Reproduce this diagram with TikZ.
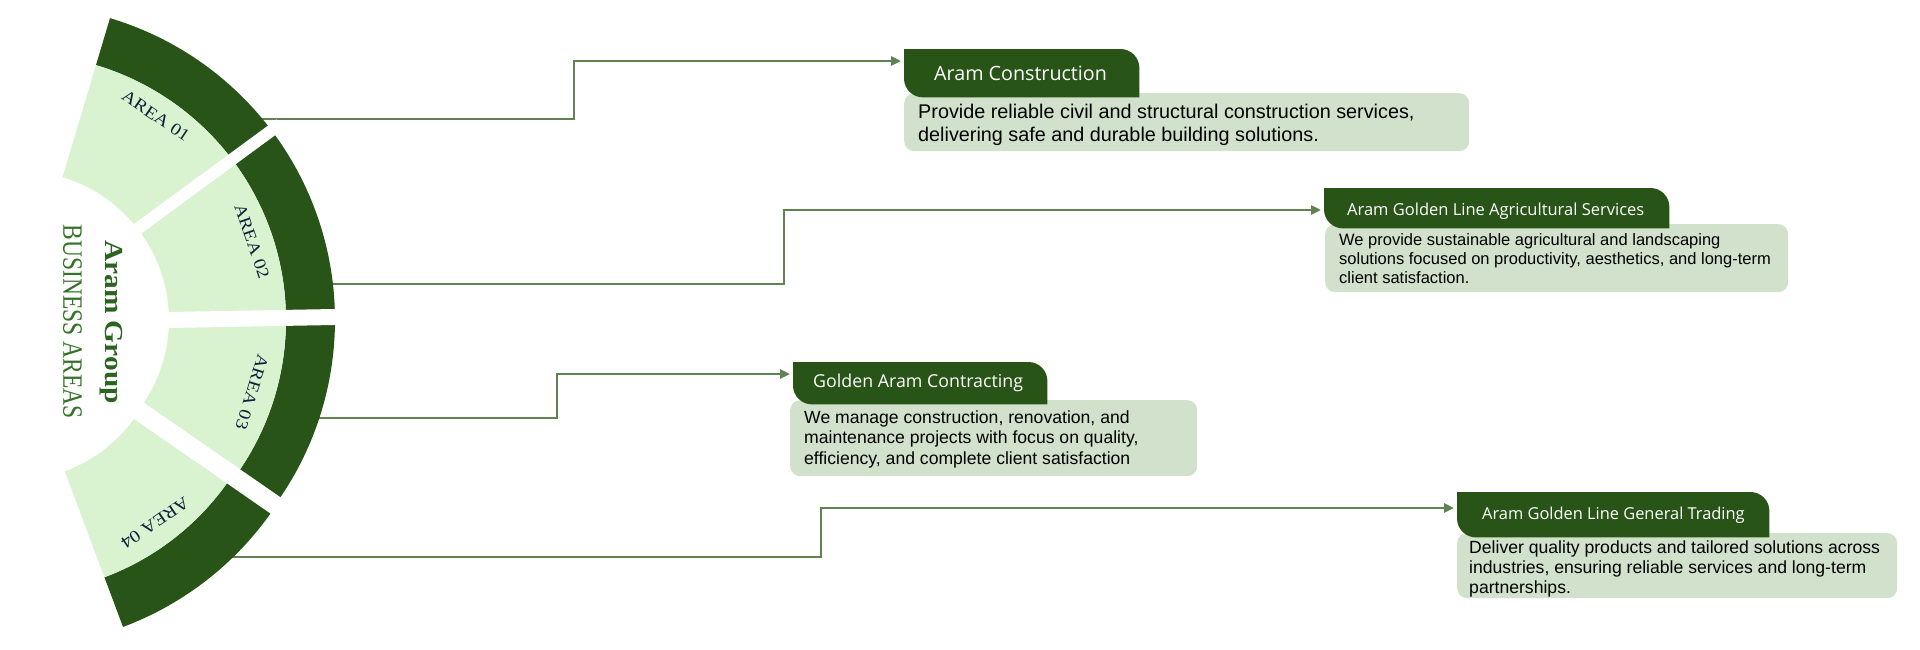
\documentclass[tikz,border=0pt]{standalone}
\usepackage{fontspec}
\setmainfont{Liberation Serif}
\newfontfamily\bodyfont{Liberation Sans}
\newfontfamily\hdrfont{Open Sans}
\newfontfamily\areafont[FakeStretch=1.15]{Liberation Serif}
\newfontfamily\titlefont[FakeStretch=1.13]{Liberation Serif}
\newfontfamily\subfont[FakeStretch=0.84]{Liberation Serif}
\usetikzlibrary{arrows.meta,calc}
\definecolor{darkg}{RGB}{40,84,24}
\definecolor{fanlight}{RGB}{217,242,208}
\definecolor{boxlight}{RGB}{209,225,203}
\definecolor{connc}{RGB}{97,130,82}
\definecolor{areatxt}{RGB}{12,34,58}
\definecolor{titleg}{RGB}{42,100,32}
\definecolor{subg}{RGB}{52,114,40}
\newcommand\hdrshape[1]{\fill[darkg] (#1.north west) -- ([xshift=-19pt]#1.north east) arc[start angle=90,end angle=0,radius=19pt] -- (#1.south east) -- ([xshift=19pt]#1.south west) arc[start angle=270,end angle=180,radius=19pt] -- cycle;}
\begin{document}
\begin{tikzpicture}[x=1pt,y=-1pt,
  conn/.style={draw=connc, line width=2.8pt, -{Triangle[length=10pt,width=9pt]}},
  bodybox/.style={fill=boxlight, rounded corners=10pt, inner sep=0pt, anchor=north west},
  hdrbox/.style={inner sep=0pt, anchor=north west},
  hdrtext/.style={text=white, anchor=base west, inner sep=0pt},
  bodytext/.style={text=black, anchor=base west, inner sep=0pt, align=left},
  arealabel/.style={text=areatxt, inner sep=0pt, font=\areafont\fontsize{17}{17}\selectfont},
  gap/.style={draw=white},
]
\useasboundingbox (0,0) rectangle (1920,649);
\fill[white] (0,0) rectangle (1920,649);

% ---------- boxes ----------
\node[bodybox, minimum width=565pt, minimum height=58pt] (b1) at (904,93) {};
\node[hdrbox, minimum width=235pt, minimum height=48pt] (h1) at (904,49) {};
\hdrshape{h1}
\node[bodybox, minimum width=463pt, minimum height=68pt] (b2) at (1325,224) {};
\node[hdrbox, minimum width=345pt, minimum height=40pt] (h2) at (1324,188) {};
\hdrshape{h2}
\node[bodybox, minimum width=407pt, minimum height=76pt] (b3) at (790,400) {};
\node[hdrbox, minimum width=254pt, minimum height=42pt] (h3) at (793,362) {};
\hdrshape{h3}
\node[bodybox, minimum width=440pt, minimum height=65pt] (b4) at (1457,533) {};
\node[hdrbox, minimum width=312pt, minimum height=45pt] (h4) at (1457,492) {};
\hdrshape{h4}

\node[hdrtext, font=\hdrfont\fontsize{19.7}{20}\selectfont] (ht1) at (934,80) {Aram Construction};
\node[hdrtext, font=\hdrfont\fontsize{16.5}{17}\selectfont] (ht2) at (1347,215) {Aram Golden Line Agricultural Services};
\node[hdrtext, font=\hdrfont\fontsize{17.8}{18}\selectfont] (ht3) at (813,387) {Golden Aram Contracting};
\node[hdrtext, font=\hdrfont\fontsize{16.4}{17}\selectfont] (ht4) at (1482,519) {Aram Golden Line General Trading};

% anchor = baseline of the last line
\node[bodytext, font=\bodyfont\fontsize{19.8}{23}\selectfont] (bt1) at (918,141) {Provide reliable civil and structural construction services,\\delivering safe and durable building solutions.};
\node[bodytext, font=\bodyfont\fontsize{16.5}{19}\selectfont] (bt2) at (1339,283) {We provide sustainable agricultural and landscaping\\solutions focused on productivity, aesthetics, and long-term\\client satisfaction.};
\node[bodytext, font=\bodyfont\fontsize{17.6}{20.5}\selectfont] (bt3) at (804,464) {We manage construction, renovation, and\\maintenance projects with focus on quality,\\efficiency, and complete client satisfaction};
\node[bodytext, font=\bodyfont\fontsize{17.6}{20}\selectfont] (bt4) at (1469,593) {Deliver quality products and tailored solutions across\\industries, ensuring reliable services and long-term\\partnerships.};

% ---------- connectors ----------
\coordinate (C) at (20,320);
\coordinate (C4) at (12,330);
\coordinate (s1) at (258,119);
\coordinate (s2) at (330,284);
\coordinate (s3) at (316,418);
\coordinate (s4) at (228,557);
\draw[conn] (s1) -- ++(316,0) |- ([shift={(-3pt,-12pt)}]h1.north west);
\draw[conn] (s2) -- ++(454,0) |- ([shift={(-3pt,-22pt)}]h2.north west);
\draw[conn] (s3) -- ++(241,0) |- ([shift={(-3pt,-12pt)}]h3.north west);
\draw[conn] (s4) -- ++(593,0) |- ([shift={(-3pt,-16pt)}]h4.north west);

% ---------- fan ----------
\fill[darkg] ($(C)+(73.4:315pt)$) arc[start angle=73.4,end angle=-36.5,radius=315pt] -- ($(C)+(-36.5:266pt)$) arc[start angle=-36.5,end angle=73.4,radius=266pt] -- cycle;
\fill[fanlight] ($(C)+(73.4:266pt)$) arc[start angle=73.4,end angle=-36.5,radius=266pt] -- ($(C)+(-36.5:149pt)$) arc[start angle=-36.5,end angle=73.4,radius=149pt] -- cycle;
\fill[darkg] ($(C4)+(-33:317pt)$) arc[start angle=-33,end angle=-69.5,radius=317pt] -- ($(C4)+(-69.5:264pt)$) arc[start angle=-69.5,end angle=-33,radius=264pt] -- cycle;
\fill[fanlight] ($(C4)+(-33:264pt)$) arc[start angle=-33,end angle=-69.5,radius=264pt] -- ($(C4)+(-69.5:151pt)$) arc[start angle=-69.5,end angle=-33,radius=151pt] -- cycle;
\draw[gap, line width=12pt] (130,234.4) -- (280,124.2);
\draw[gap, line width=16pt] (157,320.2) -- (345,316.8);
\draw[gap, line width=19pt] (131.8,405.8) -- (285,512);

\node[arealabel, rotate=-34] (a1) at (156,116) {AREA 01};
\node[arealabel, rotate=-71] (a2) at (252,241) {AREA 02};
\node[arealabel, rotate=-107] (a3) at (252,392) {AREA 03};
\node[arealabel, rotate=-146] (a4) at (155,523) {AREA 04};

\node[rotate=-90, text=titleg, inner sep=0pt, font=\titlefont\fontsize{26}{26}\selectfont\bfseries] (title) at (111.5,322) {Aram Group};
\node[rotate=-90, text=subg, inner sep=0pt, font=\subfont\fontsize{28}{28}\selectfont] (subtitle) at (72.5,322) {BUSINESS AREAS};
\end{tikzpicture}
\end{document}
